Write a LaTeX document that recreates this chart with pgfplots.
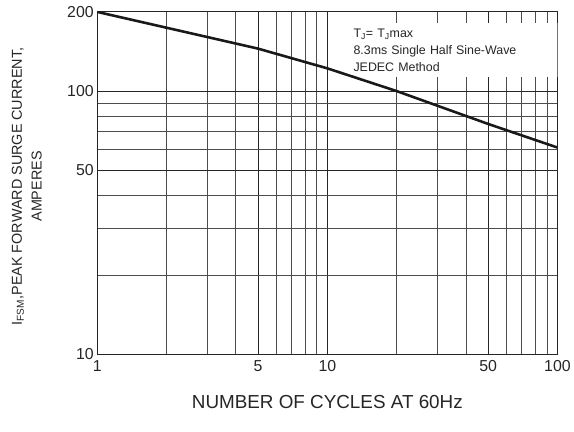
\documentclass[border=0pt]{standalone}
\usepackage{pgfplots}
\pgfplotsset{compat=1.18}
\usepackage{fontspec}
\setmainfont{Liberation Sans}
\begin{document}
\begin{tikzpicture}
\begin{axis}[
  name=ax,
  set layers,
  xmode=log, ymode=log,
  scale only axis,
  width=464pt, height=345pt,
  xmin=1, xmax=100, ymin=10, ymax=200,
  xtick={1,5,10,50,100}, xticklabels={1,5,10,50,100},
  ytick={10,50,100,200}, yticklabels={10,50,100,200},
  minor xtick={2,3,4,6,7,8,9,20,30,40,60,70,80,90},
  minor ytick={20,30,40,60,70,80,90},
  log ticks with fixed point,
  /pgf/number format/assume math mode=true,
  grid=both,
  major grid style={black!85, line width=0.9pt},
  minor grid style={black!70, line width=0.75pt},
  major tick length=0pt, minor tick length=0pt,
  axis line style={black!85, line width=1pt},
  tick label style={font=\fontsize{16}{18}\selectfont, text=black!85},
  xticklabel style={yshift=-3pt},
  xlabel={NUMBER OF CYCLES AT 60Hz},
  xlabel style={at={(axis description cs:0.5,-0.139)}, anchor=center, font=\fontsize{19}{22}\selectfont, text=black!85},
  ylabel={I\textsubscript{FSM},PEAK FORWARD SURGE CURRENT,\\AMPERES},
  ylabel style={at={(axis description cs:-0.153,0.49)}, anchor=center, align=center, font=\fontsize{14.5}{20}\selectfont, text=black!85},
  clip=true,
]
\node[on layer=pre main, anchor=north west, fill=white, inner xsep=16pt, inner ysep=6pt, text width=195pt, align=left,
  font=\fontsize{12.5}{17}\selectfont, text=black!85]
  at (rel axis cs:0.522,0.968)
  {T\textsubscript{J}= T\textsubscript{J}max\\8.3ms Single Half Sine-Wave\\JEDEC Method};
\addplot[black!90, line width=2.6pt] coordinates {
  (1,200) (5,145) (10,122) (20,100) (50,75) (100,61)
};
\end{axis}
\useasboundingbox ([shift={(-98pt,-78pt)}]ax.south west) rectangle ([shift={(12pt,12pt)}]ax.north east);
\end{tikzpicture}
\end{document}
